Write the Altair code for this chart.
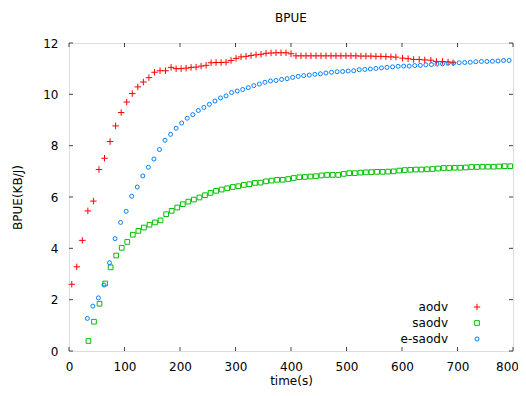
import altair as alt
import pandas as pd

# ---------------- data ----------------
aodv_t = [5, 14, 24, 34, 44, 54, 64, 74, 84, 94, 104, 114, 124, 134, 144, 154, 164, 174,
          184, 193, 202, 211, 220, 229, 238, 247, 256, 265, 274, 283, 292, 301, 310, 319,
          328, 337, 346, 355, 364, 373, 382, 391, 400, 409, 418, 427, 436, 445, 454, 463,
          472, 481, 490, 499, 508, 517, 526, 535, 544, 553, 562, 571, 580, 589,
          601, 611, 621, 631, 641, 652, 662, 673, 683, 692]
aodv_v = [2.60, 3.28, 4.31, 5.46, 5.84, 7.07, 7.51, 8.16, 8.77, 9.29, 9.70, 10.03, 10.29,
          10.48, 10.65, 10.86, 10.92, 10.92,
          11.05, 11.00, 11.00, 11.02, 11.05, 11.06, 11.10, 11.13, 11.23, 11.24, 11.24, 11.25,
          11.32, 11.40, 11.46, 11.48, 11.51, 11.54, 11.56, 11.60, 11.61, 11.62, 11.62, 11.62,
          11.58, 11.50, 11.50, 11.50, 11.50, 11.50, 11.50, 11.50, 11.50, 11.50, 11.50, 11.50,
          11.50, 11.50, 11.49, 11.49, 11.49, 11.48, 11.48, 11.47, 11.46, 11.45,
          11.41, 11.39, 11.36, 11.36, 11.34, 11.33, 11.28, 11.28, 11.26, 11.23]

saodv_t = [35, 45, 55, 65, 75, 85, 95, 105, 115, 125, 135, 145, 155, 165, 175, 185, 195,
           205, 215, 225, 235, 245, 255, 265, 275, 285, 295, 305, 315, 325, 335, 345, 355,
           365, 375, 385, 395, 405, 415, 425, 435, 445, 455, 465, 475, 485, 495, 505, 515,
           525, 535, 545, 555, 565, 575, 585, 595, 605, 615, 625, 635, 645, 655, 665, 675,
           685, 695, 705, 715, 725, 735, 745, 755, 765, 775, 785, 795]
saodv_v = [0.39, 1.14, 1.84, 2.63, 3.26, 3.72, 4.02, 4.25, 4.53, 4.68, 4.81, 4.92, 5.01,
           5.09, 5.33, 5.46, 5.59, 5.72, 5.82, 5.90, 5.98, 6.07, 6.16, 6.24, 6.29, 6.34,
           6.39, 6.42, 6.47, 6.50, 6.55, 6.56, 6.61, 6.64, 6.67, 6.67, 6.70, 6.74, 6.77,
           6.78, 6.80, 6.81, 6.84, 6.86, 6.86, 6.86, 6.90, 6.93, 6.93, 6.95, 6.96, 6.97,
           6.98, 6.98, 6.99, 7.00, 7.03, 7.05, 7.06, 7.07, 7.07, 7.08, 7.09, 7.11, 7.13,
           7.13, 7.14, 7.14, 7.15, 7.17, 7.17, 7.18, 7.18, 7.18, 7.19, 7.20, 7.20]

esaodv_t = [33, 43, 53, 63, 73, 83, 93, 103, 113, 123, 133, 143, 153, 163, 173, 183, 193,
            203, 213, 223, 233, 243, 253, 263, 273, 283, 293, 303, 313, 323, 333, 343, 353,
            363, 373, 383, 393, 403, 413, 423, 433, 443, 453, 463, 473, 483, 493, 503, 513,
            523, 533, 543, 553, 563, 573, 583, 593, 603, 613, 623, 633, 643, 653, 663, 673,
            683, 693, 703, 713, 723, 733, 743, 753, 763, 773, 783, 793]
esaodv_v = [1.27, 1.75, 2.07, 2.57, 3.44, 4.38, 5.01, 5.44, 6.03, 6.39, 6.82, 7.16, 7.48,
            7.85, 8.21, 8.44, 8.68, 8.88, 9.07, 9.21, 9.37, 9.49, 9.61, 9.74, 9.86, 9.94,
            10.07, 10.13, 10.19, 10.26, 10.34, 10.40, 10.47, 10.52, 10.54, 10.58, 10.61,
            10.66, 10.70, 10.73, 10.75, 10.78, 10.80, 10.83, 10.86, 10.88, 10.89, 10.91,
            10.92, 10.96, 10.97, 10.99, 11.01, 11.03, 11.05, 11.07, 11.09, 11.10, 11.10,
            11.12, 11.13, 11.15, 11.16, 11.18, 11.19, 11.21, 11.22, 11.23, 11.24, 11.25,
            11.27, 11.28, 11.28, 11.29, 11.30, 11.32, 11.32]

series_names = ["aodv", "saodv", "e-saodv"]
chart_title = "BPUE"
x_ticks = [0, 100, 200, 300, 400, 500, 600, 700, 800]
y_ticks = [0, 2, 4, 6, 8, 10, 12]

# ---------------- styling ----------------
W, H = 444, 308
FONT = "DejaVu Sans"
FS = 12
FRAME = "#444444"
colors = {"aodv": "#ff0000", "saodv": "#00c000", "e-saodv": "#0080ff"}
shapes = {"aodv": "M-1,0L1,0M0,-1L0,1", "saodv": "square", "e-saodv": "circle"}
sizes = {"aodv": 42, "saodv": 22, "e-saodv": 16}

xscale = alt.Scale(domain=[0, 800], nice=False, zero=False)
yscale = alt.Scale(domain=[0, 12], nice=False, zero=False)
xaxis = alt.Axis(values=x_ticks, ticks=False, tickSize=0, domain=False, grid=False,
                 labelPadding=10, labelFont=FONT, labelFontSize=FS, labelColor="black",
                 labelOffset=alt.ExprRef(expr="datum.value == 800 ? -6 : 0"),
                 titleFont=FONT, titleFontSize=FS, titleFontWeight="normal",
                 titleColor="black", titlePadding=3, labelFlush=False)
yaxis = alt.Axis(values=y_ticks, ticks=False, tickSize=0, domain=False, grid=False,
                 labelPadding=11, labelFont=FONT, labelFontSize=FS, labelColor="black",
                 titleFont=FONT, titleFontSize=FS, titleFontWeight="normal",
                 titleColor="black", titlePadding=18, labelFlush=False)


def X(field="t"):
    return alt.X(f"{field}:Q", scale=xscale, axis=xaxis, title="time(s)")


def Y(field="v"):
    return alt.Y(f"{field}:Q", scale=yscale, axis=yaxis, title="BPUE(KB/J)")


data = {
    "aodv": pd.DataFrame({"t": aodv_t, "v": aodv_v}),
    "saodv": pd.DataFrame({"t": saodv_t, "v": saodv_v}),
    "e-saodv": pd.DataFrame({"t": esaodv_t, "v": esaodv_v}),
}

layers = []
for name in series_names:
    layers.append(
        alt.Chart(data[name]).mark_point(
            shape=shapes[name], filled=False, size=sizes[name],
            stroke=colors[name], strokeWidth=1, opacity=1
        ).encode(x=X(), y=Y())
    )

# inward ticks on all four sides
xt = pd.DataFrame({"t": x_ticks})
yt = pd.DataFrame({"v": y_ticks})
TL = 4
layers.append(alt.Chart(xt).mark_rule(color=FRAME, strokeWidth=1).encode(
    x=X(), y=alt.value(H), y2=alt.value(H - TL)))
layers.append(alt.Chart(xt).mark_rule(color=FRAME, strokeWidth=1).encode(
    x=X(), y=alt.value(0), y2=alt.value(TL)))
layers.append(alt.Chart(yt).mark_rule(color=FRAME, strokeWidth=1).encode(
    y=Y(), x=alt.value(0), x2=alt.value(TL)))
layers.append(alt.Chart(yt).mark_rule(color=FRAME, strokeWidth=1).encode(
    y=Y(), x=alt.value(W), x2=alt.value(W - TL)))

# chart title as text above the plot
layers.append(alt.Chart(pd.DataFrame({"label": [chart_title]})).mark_text(
    align="center", baseline="alphabetic", font=FONT, fontSize=FS, color="black"
).encode(x=alt.value(W / 2), y=alt.value(-21), text="label:N"))

# key (gnuplot style: label on the left, symbol on the right)
key_y = [264, 280, 296]
for i, name in enumerate(series_names):
    kd = pd.DataFrame({"label": [name]})
    layers.append(alt.Chart(kd).mark_text(
        align="right", baseline="middle", font=FONT, fontSize=FS, color="black"
    ).encode(x=alt.value(379), y=alt.value(key_y[i]), text="label:N"))
    layers.append(alt.Chart(kd).mark_point(
        shape=shapes[name], filled=False, size=sizes[name],
        stroke=colors[name], strokeWidth=1, opacity=1
    ).encode(x=alt.value(408), y=alt.value(key_y[i])))

chart = alt.layer(*layers).properties(
    width=W, height=H,
    autosize=alt.AutoSizeParams(type="none"),
    padding={"left": 61, "top": 35, "right": 5, "bottom": 37},
).configure_view(stroke=FRAME, strokeWidth=1).configure(background="white")

chart.save("out.html", embed_options={"renderer": "svg", "actions": False})
